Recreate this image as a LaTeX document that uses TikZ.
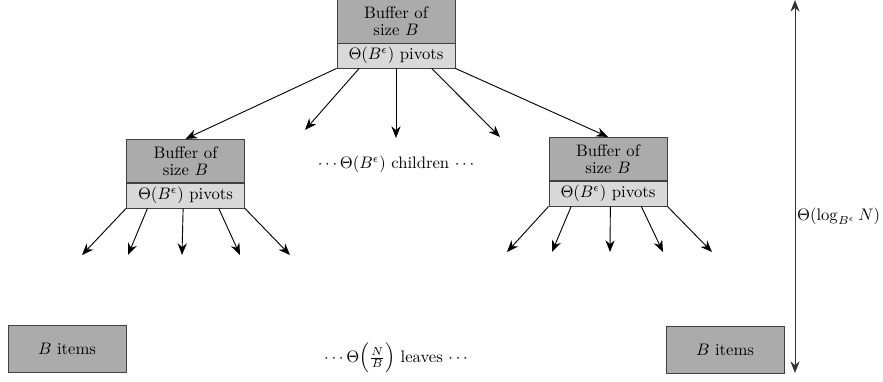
\documentclass[tikz,border=0pt]{standalone}
\usetikzlibrary{arrows.meta,calc}
\begin{document}
\begin{tikzpicture}[x=0.6pt,y=-0.6pt,
  buf/.style={draw=black!75, fill=black!33, minimum width=70.8pt, minimum height=26pt, inner sep=0pt, align=center, line width=0.5pt, font=\fontsize{10}{10}\selectfont},
  piv/.style={draw=black!75, fill=black!15, minimum width=70.8pt, minimum height=15pt, inner sep=0pt, line width=0.5pt},
  leaf/.style={draw=black!75, fill=black!33, minimum width=70.8pt, minimum height=28.2pt, inner sep=0pt, line width=0.5pt},
  arr/.style={-{Stealth[length=7pt,width=5.5pt]}, line width=0.55pt},
  dbl/.style={{Stealth[length=7pt,width=5.5pt]}-{Stealth[length=7pt,width=5.5pt]}, line width=0.55pt, draw=black!80}]
\useasboundingbox (0,0) rectangle (883,381);

% top node
\node[buf] (tb) at (396,21.5) {Buffer of\\size $B$};
\node[piv] (tp) at (396,55.5) {$\Theta(B^\epsilon)$ pivots};
% left middle node
\node[buf] (lb) at (185.5,161) {Buffer of\\size $B$};
\node[piv] (lp) at (185.5,195.5) {$\Theta(B^\epsilon)$ pivots};
% right middle node
\node[buf] (rb) at (608,159) {Buffer of\\size $B$};
\node[piv] (rp) at (608,193.5) {$\Theta(B^\epsilon)$ pivots};
% leaves
\node[leaf] (l1) at (67,348.5) {$B$ items};
\node[leaf] (l2) at (725,350) {$B$ items};

% labels
\node (ch) at (396,164) {$\cdots\Theta(B^\epsilon)$ children $\cdots$};
\node (lv) at (396,358) {$\cdots\Theta\Bigl(\frac{N}{B}\Bigr)$ leaves $\cdots$};

% top arrows
\coordinate (t2) at (305,130);
\coordinate (t3) at (396,138);
\coordinate (t4) at (500,137);
\draw[arr] (tp.south west) -- (lb.north);
\draw[arr] ($(tp.south west)!0.19!(tp.south east)$) -- (t2);
\draw[arr] (tp.south) -- (t3);
\draw[arr] ($(tp.south west)!0.8!(tp.south east)$) -- (t4);
\draw[arr] (tp.south east) -- (rb.north);

% left middle arrows
\coordinate (a1) at (82,255);
\coordinate (a2) at (128,255);
\coordinate (a3) at (182,255);
\coordinate (a4) at (240,255);
\coordinate (a5) at (290,255);
\draw[arr] (lp.south west) -- (a1);
\draw[arr] ($(lp.south west)!0.18!(lp.south east)$) -- (a2);
\draw[arr] ($(lp.south west)!0.48!(lp.south east)$) -- (a3);
\draw[arr] ($(lp.south west)!0.78!(lp.south east)$) -- (a4);
\draw[arr] (lp.south east) -- (a5);

% right middle arrows
\coordinate (b1) at (507,252);
\coordinate (b2) at (552,252);
\coordinate (b3) at (610,252);
\coordinate (b4) at (663,252);
\coordinate (b5) at (712,252);
\draw[arr] (rp.south west) -- (b1);
\draw[arr] ($(rp.south west)!0.19!(rp.south east)$) -- (b2);
\draw[arr] ($(rp.south west)!0.52!(rp.south east)$) -- (b3);
\draw[arr] ($(rp.south west)!0.78!(rp.south east)$) -- (b4);
\draw[arr] (rp.south east) -- (b5);

% height arrow
\coordinate (h1) at (795,0);
\coordinate (h2) at (795,373);
\draw[dbl] (h1) -- (h2) node[pos=0.58, right, inner sep=1pt] (hl) {$\Theta(\log_{B^\epsilon} N)$};
\end{tikzpicture}
\end{document}
